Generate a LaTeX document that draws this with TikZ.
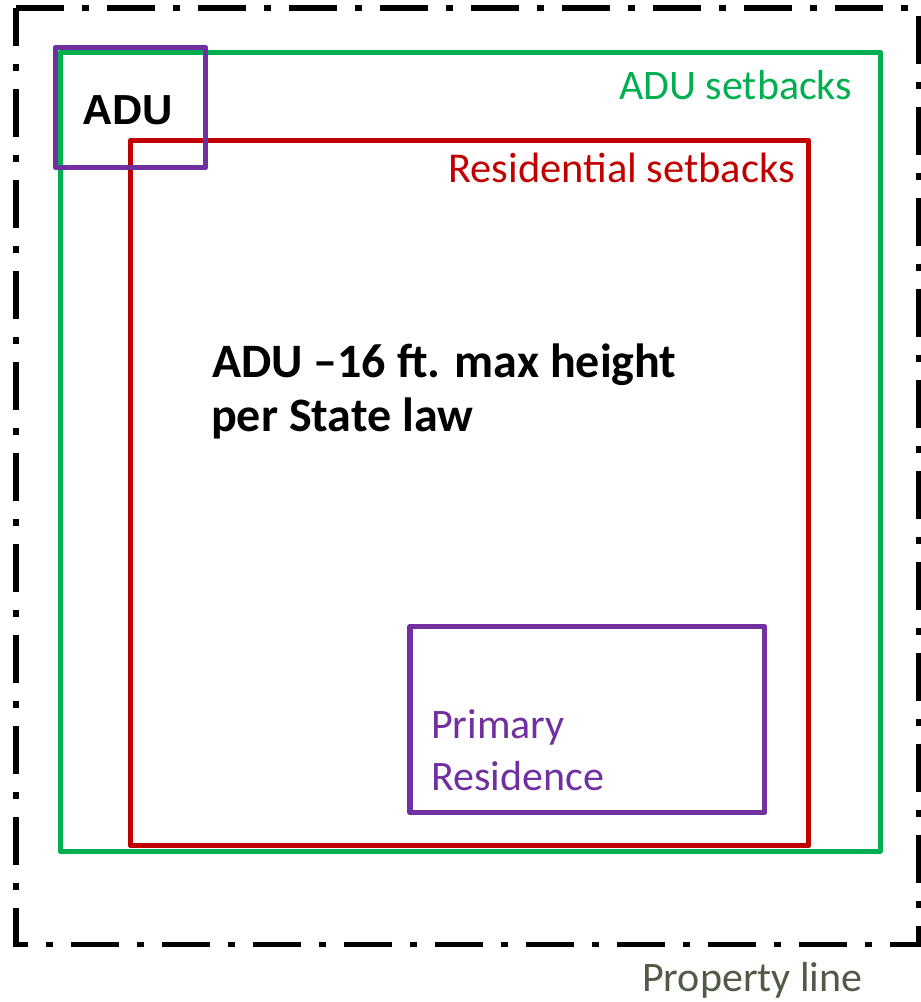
\documentclass[tikz,border=0pt]{standalone}
\usepackage{fontspec}
\setmainfont{Carlito}
\newfontfamily\arialfont{Liberation Sans}
\definecolor{adugreen}{RGB}{0,176,80}
\definecolor{resred}{RGB}{192,0,0}
\definecolor{purp}{RGB}{112,48,160}
\definecolor{propgrey}{RGB}{80,90,70}
\tikzset{
  propline/.style={draw=black, line width=5.8pt, dash pattern=on 48pt off 18pt on 7pt off 18pt},
  greenbox/.style={draw=adugreen, line width=5pt, line join=round},
  redbox/.style={draw=resred, line width=5.6pt, line join=round},
  purpbox/.style={draw=purp, line width=5.6pt, line join=round},
  lbl/.style={inner sep=0pt, anchor=base west, font=\fontsize{42}{50}\selectfont},
  biglbl/.style={inner sep=0pt, anchor=base west, font=\bfseries\fontsize{48}{50}\selectfont},
}
\begin{document}
\begin{tikzpicture}[x=1pt,y=-1pt]
\useasboundingbox (0,0) rectangle (921,1002);
% property line
\draw[propline] (16,8) -- (918.5,8) -- (918.5,944.5) -- (16,944.5) -- cycle;
% ADU setbacks
\draw[greenbox] (60,52) rectangle (880,851);
% Residential setbacks
\draw[redbox] (130.5,140.5) rectangle (808.5,845.5);
% ADU box
\draw[purpbox] (55.5,47.5) rectangle (205.5,167.5);
% Primary residence
\draw[purpbox] (410,626.5) rectangle (764.5,812.5);
% labels
\node[inner sep=0pt, anchor=base, font=\arialfont\bfseries\fontsize{42}{50}\selectfont] (adu) at (127.5,124) {ADU};
\node[lbl, text=adugreen] (adusb) at (619,99) {ADU setbacks};
\node[lbl, text=resred, font=\fontsize{42.5}{50}\selectfont] (ressb) at (448,182) {Residential setbacks};
\node[biglbl] (h1) at (212,377) {ADU –16 ft. max height};
\node[biglbl] (h2) at (211,431) {per State law};
\node[lbl, text=purp] (pr1) at (431,738) {Primary};
\node[lbl, text=purp] (pr2) at (431,790) {Residence};
\node[lbl, text=propgrey] (prop) at (642,991) {Property line};
\end{tikzpicture}
\end{document}
